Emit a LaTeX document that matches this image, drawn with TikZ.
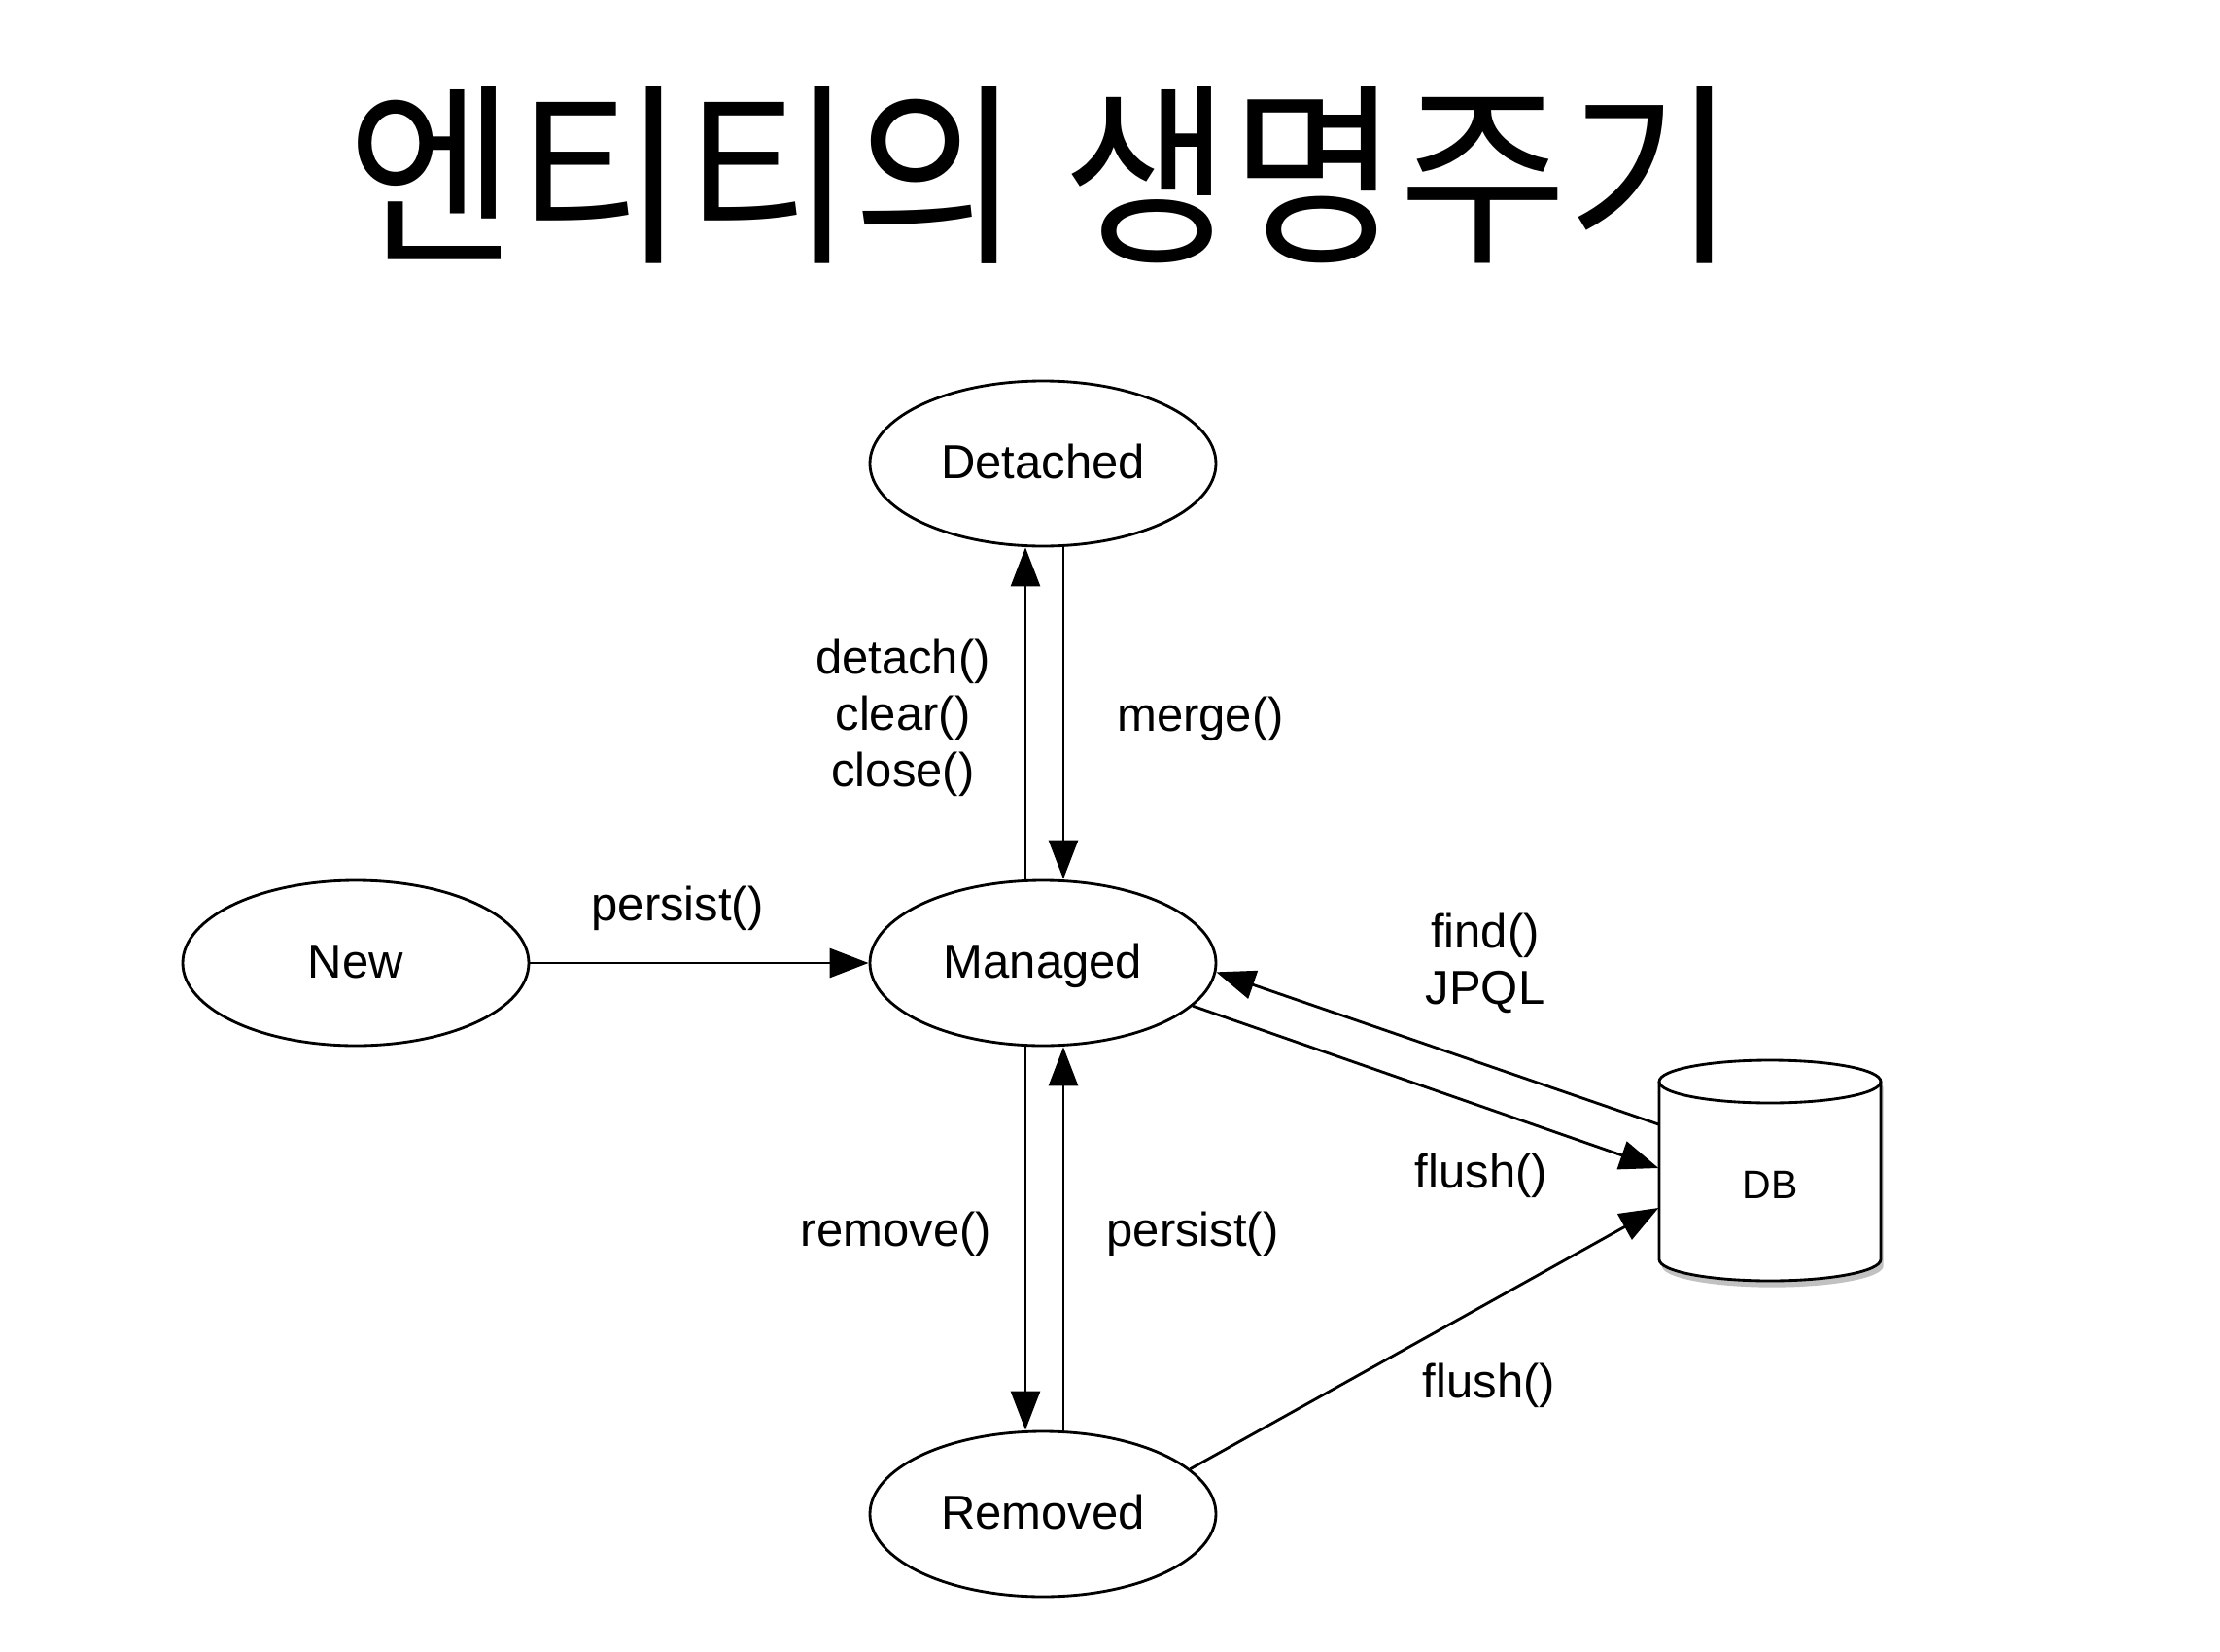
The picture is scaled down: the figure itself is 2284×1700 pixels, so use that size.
\documentclass[tikz,border=0pt]{standalone}
\usepackage{fontspec}
\setmainfont{Liberation Sans}
\newfontfamily\krfont{Noto Sans CJK KR}
\usetikzlibrary{arrows.meta,shapes.geometric,shadows,calc}
\newcommand{\lblfont}{\fontsize{14.7pt}{17.4pt}\selectfont}
\newcommand{\dbfont}{\fontsize{12.3pt}{14pt}\selectfont}
\tikzset{
  state/.style={ellipse, draw, line width=0.85pt, minimum width=106.8pt, minimum height=51pt,
    inner sep=0pt, font=\lblfont, text height=0.95em, text depth=0pt},
  lab/.style={inner sep=0pt, anchor=base, font=\lblfont},
  arr/.style={-{Triangle[length=12pt,width=9pt]}, line width=0.85pt},
  cyl/.style={line width=0.85pt}
}
\begin{document}
\begin{tikzpicture}[x=0.3pt,y=0.3pt]
\useasboundingbox[fill=white] (0,0) rectangle (2284,-1700);
% title
\node[inner sep=0pt, font=\krfont\fontsize{56.5pt}{64pt}\selectfont] (title) at (1072,-180) {\scalebox{1}[1.07]{엔티티의 생명주기}};
% states
\node[state] (D) at (1073,-477) {Detached};
\node[state] (M) at (1073,-991) {Managed};
\node[state] (N) at (366,-991) {New};
\node[state] (R) at (1073,-1558) {Removed};
% DB cylinder
\fill[white, drop shadow={shadow xshift=0.8pt, shadow yshift=-2pt, opacity=0.4, fill=black!60}]
  (1707,-1113) -- (1707,-1296) arc[start angle=180,end angle=360,x radius=114,y radius=22]
  -- (1935,-1113) arc[start angle=0,end angle=180,x radius=114,y radius=22] -- cycle;
\draw[cyl] (1707,-1113) -- (1707,-1296) arc[start angle=180,end angle=360,x radius=114,y radius=22]
  -- (1935,-1113);
\draw[cyl] (1821,-1113) ellipse[x radius=114,y radius=22];
\node[inner sep=0pt, minimum width=68.4pt, minimum height=54pt, font=\dbfont, text height=0.9em, text depth=0pt] (DB) at (1821,-1218) {DB};
% connectors
\draw[arr] (N.east) -- (M.west);
\draw[arr] ($(M.north)+(-18,0)$) -- ($(D.south)+(-18,0)$);
\draw[arr] ($(D.south)+(21,0)$) -- ($(M.north)+(21,0)$);
\draw[arr] ($(M.south)+(-18,0)$) -- ($(R.north)+(-18,0)$);
\draw[arr] ($(R.north)+(21,0)$) -- ($(M.south)+(21,0)$);
\draw[arr] (M.-16) -- ($(DB.west)+(0,16)$);
\draw[arr] ($(DB.west)+(0,61)$) -- (M.-3);
\draw[arr] (R.17.5) -- ($(DB.west)+(0,-25)$);
% labels
\node[lab] (l1) at (929,-693) {\begin{tabular}[t]{@{}c@{}}detach()\\clear()\\close()\end{tabular}};
\node[lab] (l2) at (1235,-752) {merge()};
\node[lab] (l3) at (697,-947) {persist()};
\node[lab] (l4) at (922,-1282) {remove()};
\node[lab] (l5) at (1227,-1282) {persist()};
\node[lab] (l6) at (1528,-975) {\begin{tabular}[t]{@{}c@{}}find()\\JPQL\end{tabular}};
\node[lab] (l7) at (1524,-1222) {flush()};
\node[lab] (l8) at (1532,-1438) {flush()};
\end{tikzpicture}
\end{document}
